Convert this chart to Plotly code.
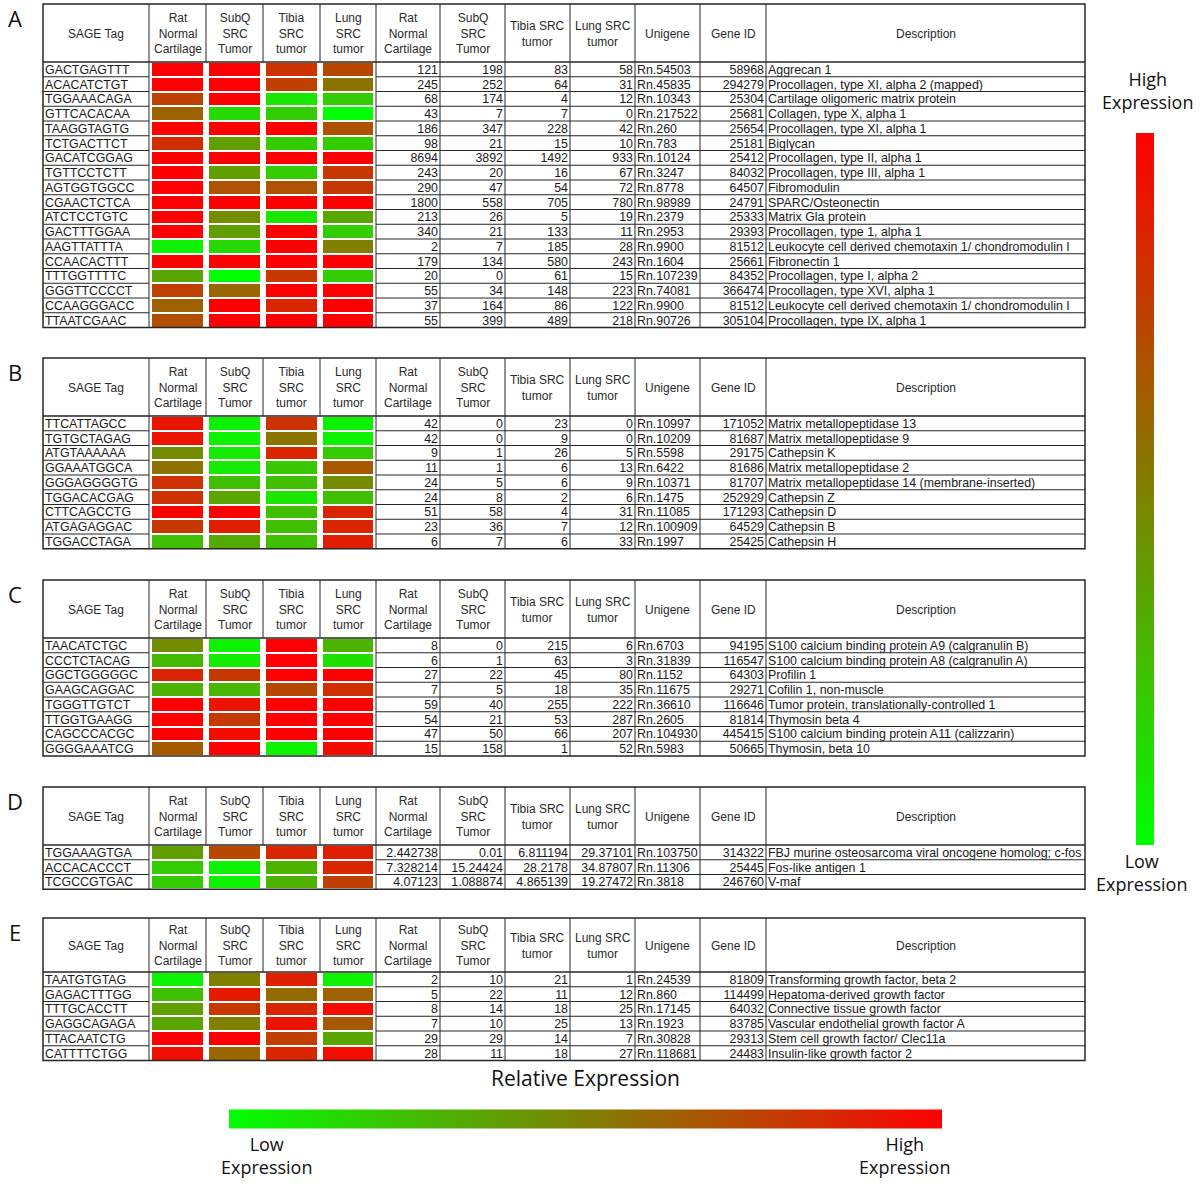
import plotly.graph_objects as go

# ------------------------------------------------------------------ data
HEADER_LABELS = ["SAGE Tag", "Rat<br>Normal<br>Cartilage", "SubQ<br>SRC<br>Tumor", "Tibia<br>SRC<br>tumor",
                 "Lung<br>SRC<br>tumor", "Rat<br>Normal<br>Cartilage", "SubQ<br>SRC<br>Tumor",
                 "Tibia SRC<br>tumor", "Lung SRC<br>tumor", "Unigene", "Gene ID", "Description"]

# ---- Table A
A_TAGS = ["GACTGAGTTT", "ACACATCTGT", "TGGAAACAGA", "GTTCACACAA", "TAAGGTAGTG", "TCTGACTTCT",
          "GACATCGGAG", "TGTTCCTCTT", "AGTGGTGGCC", "CGAACTCTCA", "ATCTCCTGTC", "GACTTTGGAA",
          "AAGTTATTTA", "CCAACACTTT", "TTTGGTTTTC", "GGGTTCCCCT", "CCAAGGGACC", "TTAATCGAAC"]
A_HEAT_RAT = [1.0, 1.0, 0.75, 0.62, 1.0, 0.82, 1.0, 1.0, 1.0, 1.0, 1.0, 1.0, 0.05, 1.0, 0.35, 0.75, 0.62, 0.7]
A_HEAT_SUBQ = [1.0, 1.0, 1.0, 0.15, 1.0, 0.38, 1.0, 0.38, 0.68, 1.0, 0.45, 0.38, 0.15, 1.0, 0.0, 0.6, 1.0, 1.0]
A_HEAT_TIBIA = [0.8, 0.75, 0.1, 0.2, 1.0, 0.2, 1.0, 0.2, 0.68, 1.0, 0.1, 1.0, 1.0, 1.0, 0.78, 1.0, 0.85, 1.0]
A_HEAT_LUNG = [0.72, 0.55, 0.2, 0.0, 0.68, 0.2, 1.0, 0.78, 0.78, 1.0, 0.35, 0.2, 0.5, 1.0, 0.2, 1.0, 1.0, 1.0]
A_RAT = [121, 245, 68, 43, 186, 98, 8694, 243, 290, 1800, 213, 340, 2, 179, 20, 55, 37, 55]
A_SUBQ = [198, 252, 174, 7, 347, 21, 3892, 20, 47, 558, 26, 21, 7, 134, 0, 34, 164, 399]
A_TIBIA = [83, 64, 4, 7, 228, 15, 1492, 16, 54, 705, 5, 133, 185, 580, 61, 148, 86, 489]
A_LUNG = [58, 31, 12, 0, 42, 10, 933, 67, 72, 780, 19, 11, 28, 243, 15, 223, 122, 218]
A_UNIGENE = ["Rn.54503", "Rn.45835", "Rn.10343", "Rn.217522", "Rn.260", "Rn.783", "Rn.10124", "Rn.3247",
             "Rn.8778", "Rn.98989", "Rn.2379", "Rn.2953", "Rn.9900", "Rn.1604", "Rn.107239", "Rn.74081",
             "Rn.9900", "Rn.90726"]
A_GENEID = [58968, 294279, 25304, 25681, 25654, 25181, 25412, 84032, 64507, 24791, 25333, 29393, 81512,
            25661, 84352, 366474, 81512, 305104]
A_DESC = ["Aggrecan 1", "Procollagen, type XI, alpha 2 (mapped)", "Cartilage oligomeric matrix protein",
          "Collagen, type X, alpha 1", "Procollagen, type XI, alpha 1", "Biglycan", "Procollagen, type II, alpha 1",
          "Procollagen, type III, alpha 1", "Fibromodulin", "SPARC/Osteonectin", "Matrix Gla protein",
          "Procollagen, type 1, alpha 1", "Leukocyte cell derived chemotaxin 1/ chondromodulin I", "Fibronectin 1",
          "Procollagen, type I, alpha 2", "Procollagen, type XVI, alpha 1",
          "Leukocyte cell derived chemotaxin 1/ chondromodulin I", "Procollagen, type IX, alpha 1"]

# ---- Table B
B_TAGS = ["TTCATTAGCC", "TGTGCTAGAG", "ATGTAAAAAA", "GGAAATGGCA", "GGGAGGGGTG", "TGGACACGAG",
          "CTTCAGCCTG", "ATGAGAGGAC", "TGGACCTAGA"]
B_HEAT_RAT = [0.92, 0.92, 0.45, 0.55, 0.8, 0.8, 1.0, 0.78, 0.25]
B_HEAT_SUBQ = [0.05, 0.05, 0.08, 0.08, 0.25, 0.35, 1.0, 0.88, 0.33]
B_HEAT_TIBIA = [0.8, 0.55, 0.85, 0.22, 0.25, 0.1, 0.25, 0.25, 0.25]
B_HEAT_LUNG = [0.05, 0.05, 0.2, 0.65, 0.45, 0.25, 0.85, 0.85, 0.88]
B_RAT = [42, 42, 9, 11, 24, 24, 51, 23, 6]
B_SUBQ = [0, 0, 1, 1, 5, 8, 58, 36, 7]
B_TIBIA = [23, 9, 26, 6, 6, 2, 4, 7, 6]
B_LUNG = [0, 0, 5, 13, 9, 6, 31, 12, 33]
B_UNIGENE = ["Rn.10997", "Rn.10209", "Rn.5598", "Rn.6422", "Rn.10371", "Rn.1475", "Rn.11085", "Rn.100909",
             "Rn.1997"]
B_GENEID = [171052, 81687, 29175, 81686, 81707, 252929, 171293, 64529, 25425]
B_DESC = ["Matrix metallopeptidase 13", "Matrix metallopeptidase 9", "Cathepsin K", "Matrix metallopeptidase 2",
          "Matrix metallopeptidase 14 (membrane-inserted)", "Cathepsin Z", "Cathepsin D", "Cathepsin B",
          "Cathepsin H"]

# ---- Table C
C_TAGS = ["TAACATCTGC", "CCCTCTACAG", "GGCTGGGGGC", "GAAGCAGGAC", "TGGGTTGTCT", "TTGGTGAAGG",
          "CAGCCCACGC", "GGGGAAATCG"]
C_HEAT_RAT = [0.45, 0.28, 0.85, 0.3, 1.0, 1.0, 1.0, 0.65]
C_HEAT_SUBQ = [0.05, 0.07, 0.78, 0.28, 0.92, 0.78, 0.95, 1.0]
C_HEAT_TIBIA = [1.0, 1.0, 1.0, 0.72, 1.0, 1.0, 1.0, 0.05]
C_HEAT_LUNG = [0.3, 0.12, 1.0, 0.82, 1.0, 1.0, 1.0, 0.95]
C_RAT = [8, 6, 27, 7, 59, 54, 47, 15]
C_SUBQ = [0, 1, 22, 5, 40, 21, 50, 158]
C_TIBIA = [215, 63, 45, 18, 255, 53, 66, 1]
C_LUNG = [6, 3, 80, 35, 222, 287, 207, 52]
C_UNIGENE = ["Rn.6703", "Rn.31839", "Rn.1152", "Rn.11675", "Rn.36610", "Rn.2605", "Rn.104930", "Rn.5983"]
C_GENEID = [94195, 116547, 64303, 29271, 116646, 81814, 445415, 50665]
C_DESC = ["S100 calcium binding protein A9 (calgranulin B)", "S100 calcium binding protein A8 (calgranulin A)",
          "Profilin 1", "Cofilin 1, non-muscle", "Tumor protein, translationally-controlled 1", "Thymosin beta 4",
          "S100 calcium binding protein A11 (calizzarin)", "Thymosin, beta 10"]

# ---- Table D
D_TAGS = ["TGGAAAGTGA", "ACCACACCCT", "TCGCCGTGAC"]
D_HEAT_RAT = [0.38, 0.2, 0.2]
D_HEAT_SUBQ = [0.72, 0.05, 0.05]
D_HEAT_TIBIA = [0.85, 0.3, 0.3]
D_HEAT_LUNG = [0.88, 0.85, 0.75]
D_RAT = [2.442738, 7.328214, 4.07123]
D_SUBQ = [0.01, 15.24424, 1.088874]
D_TIBIA = [6.811194, 28.2178, 4.865139]
D_LUNG = [29.37101, 34.87807, 19.27472]
D_UNIGENE = ["Rn.103750", "Rn.11306", "Rn.3818"]
D_GENEID = [314322, 25445, 246760]
D_DESC = ["FBJ murine osteosarcoma viral oncogene homolog; c-fos", "Fos-like antigen 1", "V-maf"]

# ---- Table E
E_TAGS = ["TAATGTGTAG", "GAGACTTTGG", "TTTGCACCTT", "GAGGCAGAGA", "TTACAATCTG", "CATTTTCTGG"]
E_HEAT_RAT = [0.05, 0.25, 0.38, 0.35, 1.0, 0.95]
E_HEAT_SUBQ = [0.5, 0.9, 0.78, 0.5, 1.0, 0.6]
E_HEAT_TIBIA = [0.88, 0.58, 0.85, 0.92, 0.75, 0.85]
E_HEAT_LUNG = [0.05, 0.62, 0.95, 0.65, 0.35, 0.95]
E_RAT = [2, 5, 8, 7, 29, 28]
E_SUBQ = [10, 22, 14, 10, 29, 11]
E_TIBIA = [21, 11, 18, 25, 14, 18]
E_LUNG = [1, 12, 25, 13, 7, 27]
E_UNIGENE = ["Rn.24539", "Rn.860", "Rn.17145", "Rn.1923", "Rn.30828", "Rn.118681"]
E_GENEID = [81809, 114499, 64032, 83785, 29313, 24483]
E_DESC = ["Transforming growth factor, beta 2", "Hepatoma-derived growth factor", "Connective tissue growth factor",
          "Vascular endothelial growth factor A", "Stem cell growth factor/ Clec11a", "Insulin-like growth factor 2"]

# ------------------------------------------------------------------ layout / style
W, H = 1200, 1186
COLS = [43, 149, 206, 263, 320, 376, 440, 505, 570, 635, 700, 766, 1085]
ROW_H = 14.75
TEXT_DY = 1.5
CS = [[0, "rgb(0,255,0)"], [1, "rgb(255,0,0)"]]
TXT_FONT = dict(family="Liberation Sans, Arial, sans-serif", size=12.4, color="#1a1a1a")
LBL_FAMILY = "Open Sans, Noto Sans, sans-serif"
LINE_C = "#262626"

TABLES = [
    dict(label="A", top=4, hh=58, tags=A_TAGS, heat=[A_HEAT_RAT, A_HEAT_SUBQ, A_HEAT_TIBIA, A_HEAT_LUNG],
         nums=[A_RAT, A_SUBQ, A_TIBIA, A_LUNG], uni=A_UNIGENE, gid=A_GENEID, desc=A_DESC, ca="coloraxis"),
    dict(label="B", top=358, hh=58, tags=B_TAGS, heat=[B_HEAT_RAT, B_HEAT_SUBQ, B_HEAT_TIBIA, B_HEAT_LUNG],
         nums=[B_RAT, B_SUBQ, B_TIBIA, B_LUNG], uni=B_UNIGENE, gid=B_GENEID, desc=B_DESC, ca="coloraxis"),
    dict(label="C", top=580, hh=58, tags=C_TAGS, heat=[C_HEAT_RAT, C_HEAT_SUBQ, C_HEAT_TIBIA, C_HEAT_LUNG],
         nums=[C_RAT, C_SUBQ, C_TIBIA, C_LUNG], uni=C_UNIGENE, gid=C_GENEID, desc=C_DESC, ca="coloraxis"),
    dict(label="D", top=787, hh=58, tags=D_TAGS, heat=[D_HEAT_RAT, D_HEAT_SUBQ, D_HEAT_TIBIA, D_HEAT_LUNG],
         nums=[D_RAT, D_SUBQ, D_TIBIA, D_LUNG], uni=D_UNIGENE, gid=D_GENEID, desc=D_DESC, ca="coloraxis"),
    dict(label="E", top=918, hh=54, tags=E_TAGS, heat=[E_HEAT_RAT, E_HEAT_SUBQ, E_HEAT_TIBIA, E_HEAT_LUNG],
         nums=[E_RAT, E_SUBQ, E_TIBIA, E_LUNG], uni=E_UNIGENE, gid=E_GENEID, desc=E_DESC, ca="coloraxis2"),
]

fig = go.Figure()
shapes = []
annotations = []


def hline(x0, x1, y, w=1.0):
    shapes.append(dict(type="line", xref="x", yref="y", x0=x0, x1=x1, y0=y, y1=y,
                       line=dict(color=LINE_C, width=w)))


def vline(x, y0, y1, w=1.0):
    shapes.append(dict(type="line", xref="x", yref="y", x0=x, x1=x, y0=y0, y1=y1,
                       line=dict(color=LINE_C, width=w)))


def txt(xs, ys, texts, pos):
    fig.add_trace(go.Scatter(x=xs, y=ys, text=texts, mode="text", textposition=pos,
                             textfont=TXT_FONT, hoverinfo="skip", showlegend=False, cliponaxis=False))


for t in TABLES:
    n = len(t["tags"])
    top = t["top"]
    hb = top + t["hh"]
    edges = [hb + i * ROW_H for i in range(n + 1)]
    centers = [hb + (i + 0.5) * ROW_H + TEXT_DY for i in range(n)]
    bottom = edges[-1]

    # heat cells
    z = [[t["heat"][c][r] for c in range(4)] for r in range(n)]
    fig.add_trace(go.Heatmap(z=z, x=COLS[1:6], y=edges, coloraxis=t["ca"], xgap=6, ygap=2,
                             hoverinfo="skip", zsmooth=False))

    # text columns
    txt([COLS[0] + 2] * n, centers, t["tags"], "middle right")
    for k, col in enumerate(t["nums"]):
        txt([COLS[6 + k] - 2] * n, centers, [str(v) for v in col], "middle left")
    txt([COLS[9] + 2] * n, centers, t["uni"], "middle right")
    txt([COLS[11] - 2] * n, centers, [str(v) for v in t["gid"]], "middle left")
    txt([COLS[11] + 2] * n, centers, t["desc"], "middle right")

    # headers
    for k, lab in enumerate(HEADER_LABELS):
        annotations.append(dict(x=(COLS[k] + COLS[k + 1]) / 2, y=top + t["hh"] / 2 + 0.5, xref="x", yref="y",
                                text=lab, showarrow=False, font=dict(family=TXT_FONT["family"], size=12,
                                                                       color="#2a2a2a")))
    # panel label
    annotations.append(dict(x=15, y=top + 14, xref="x", yref="y", text=t["label"], showarrow=False,
                            font=dict(family=LBL_FAMILY, size=22, color="#111")))

    # grid lines
    for e in edges[1:-1]:
        hline(COLS[0], COLS[1], e)
        hline(COLS[5], COLS[12], e)
    hline(COLS[0], COLS[12], hb, 1.3)
    for c in COLS[1:-1]:
        vline(c, top, hb)
    for c in [COLS[1], COLS[5]] + COLS[6:12]:
        vline(c, hb, bottom)
    shapes.append(dict(type="rect", xref="x", yref="y", x0=COLS[0], x1=COLS[12], y0=top, y1=bottom,
                       line=dict(color=LINE_C, width=1.5)))

# legends / labels
lab_font = dict(family=LBL_FAMILY, size=18, color="#111")
annotations += [
    dict(x=1147, y=90, text="High<br>Expression", xref="x", yref="y", showarrow=False, font=lab_font),
    dict(x=1141, y=872, text="Low<br>Expression", xref="x", yref="y", showarrow=False, font=lab_font),
    dict(x=266, y=1155, text="Low<br>Expression", xref="x", yref="y", showarrow=False, font=lab_font),
    dict(x=904, y=1155, text="High<br>Expression", xref="x", yref="y", showarrow=False, font=lab_font),
    dict(x=585, y=1078, text="Relative Expression", xref="x", yref="y", showarrow=False,
         font=dict(family=LBL_FAMILY, size=21, color="#111")),
]

cb_common = dict(showticklabels=False, ticks="", outlinewidth=0, xpad=0, ypad=0,
                 lenmode="pixels", thicknessmode="pixels")
fig.update_layout(
    width=W, height=H, margin=dict(l=0, r=0, t=0, b=0),
    paper_bgcolor="white", plot_bgcolor="white", showlegend=False,
    xaxis=dict(range=[0, W], visible=False, fixedrange=True),
    yaxis=dict(range=[H, 0], visible=False, fixedrange=True),
    shapes=shapes, annotations=annotations,
    coloraxis=dict(colorscale=CS, cmin=0, cmax=1,
                   colorbar=dict(x=1145 / W, xanchor="center", y=1 - 489 / H, yanchor="middle",
                                 len=712, thickness=18, **cb_common)),
    coloraxis2=dict(colorscale=CS, cmin=0, cmax=1,
                    colorbar=dict(orientation="h", x=585.5 / W, xanchor="center", y=1 - 1118.5 / H,
                                  yanchor="middle", len=713, thickness=19, **cb_common)),
)

fig.write_html("out.html", config={"displayModeBar": False},
               post_script="document.body.style.margin='0';")
